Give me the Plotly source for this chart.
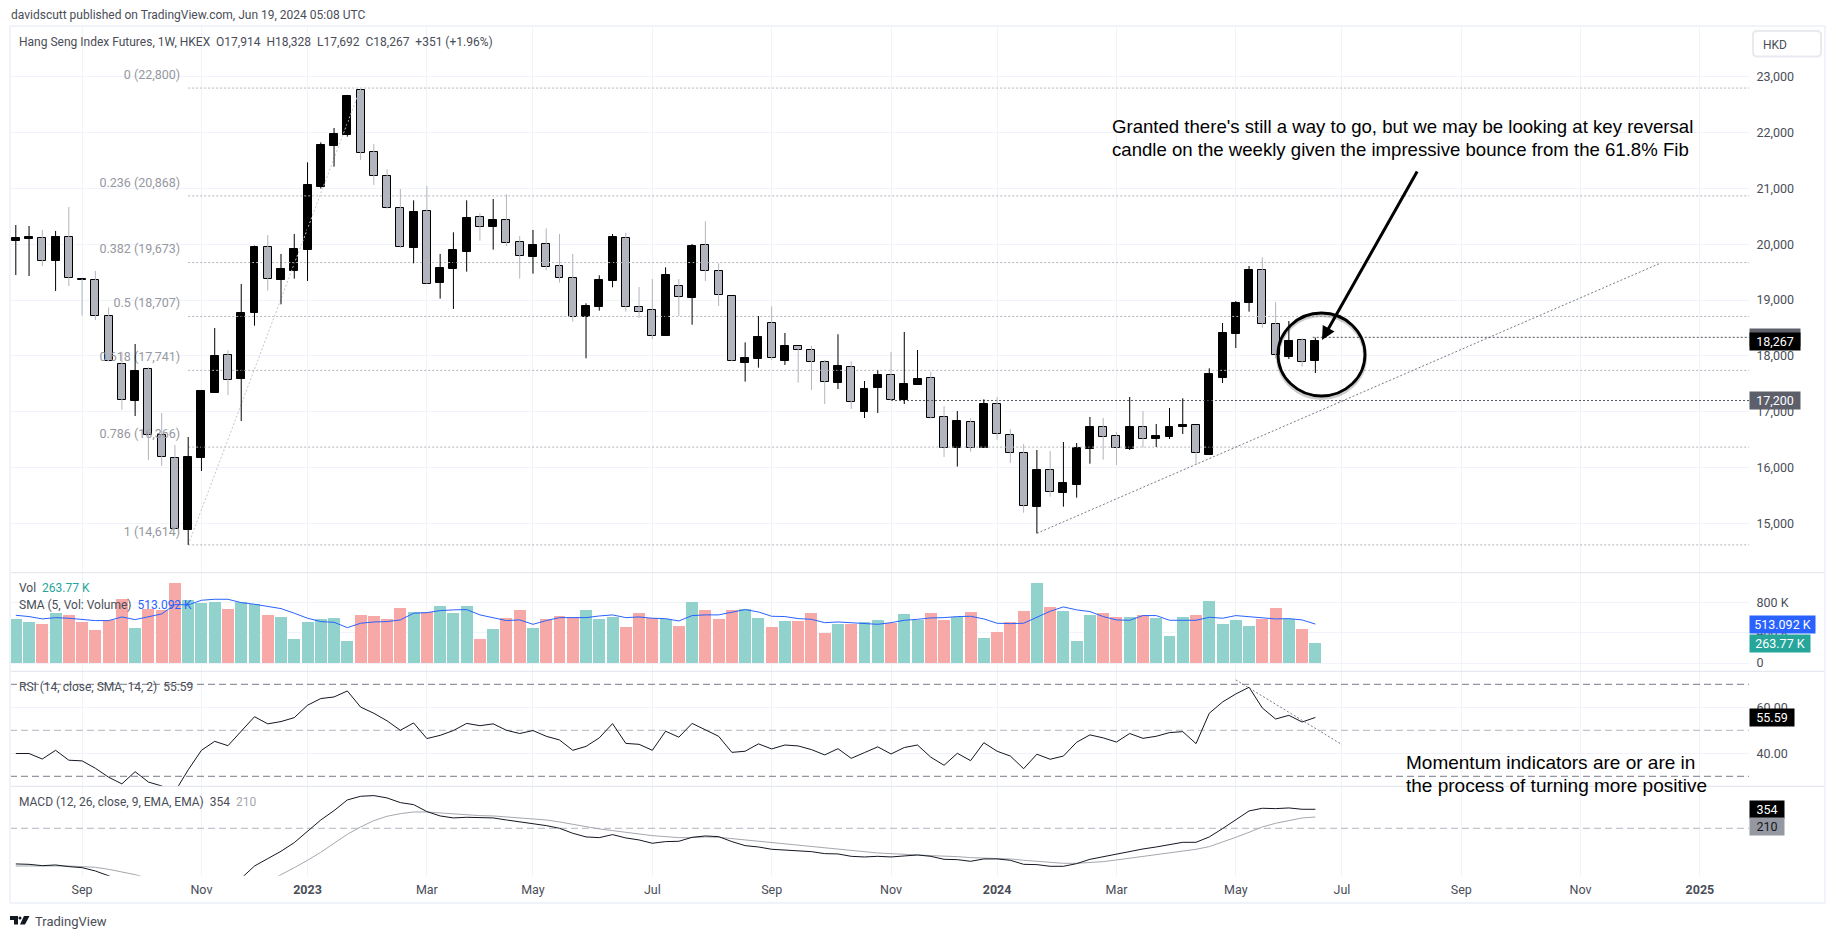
# %%
import pandas as pd
import plotly.graph_objects as go
from plotly.subplots import make_subplots

# %% DATA (weekly bars)
first_bar = '2022-08-01'

opens = [
    20065, 20095, 20107, 19707, 20125, 19373, 19355, 18709, 17849, 17198,
    17759, 16577, 16165, 14886, 16177, 17341, 18010, 17586, 18775, 19946,
    19367, 19528, 19904, 21033, 21768, 21965, 22759, 21648, 21218, 20645,
    19940, 20591, 19313, 19564, 19868, 20484, 20316, 20430, 20036, 19779,
    20000, 19606, 19391, 18703, 18882, 19349,
    20107, 18871, 18817, 18363, 19247, 19044, 19981, 19516, 19068, 17879,
    17951, 18584, 17915, 18172, 18100, 17885, 17521, 17795, 17001, 17431,
    17652, 17210, 17485, 17598, 16899, 16356, 16810, 16356, 17132, 16577,
    16254, 15299, 15950, 15549, 15693, 16338, 16720, 16559, 16332, 16720,
    16517, 16547, 16732, 16756, 16224, 17604, 18393, 18954, 19539, 18566,
    17986, 18279, 17914,
]
highs = [
    20346, 20328, 20257, 20239, 20669, 19380, 19522, 18870, 18076, 18213,
    17795, 16977, 16404, 16547, 17389, 18500, 18100, 19289, 19976, 20167,
    19827, 20185, 21469, 21827, 22084, 22676, 22790, 21798, 21344, 20991,
    20788, 21045, 19827, 20215, 20788, 20555, 20812, 20896, 20149, 20257,
    20286, 20185, 19827, 18942, 19444, 20185,
    20208, 19235, 19378, 19587, 19378, 20005, 20412, 19659, 19068, 18243,
    18715, 18888, 18411, 18172, 18178, 17927, 18387, 17903, 17550, 17742,
    18070, 18429, 18106, 17718, 17102, 17013, 16881, 17222, 17264, 16690,
    16422, 16314, 16296, 16457, 16439, 16905, 16887, 16637, 17264, 17013,
    16780, 17067, 17240, 16756, 17777, 18590, 18984, 19611, 19766, 18966,
    18625, 18315, 18328,
]
lows = [
    19450, 19432, 19611, 19164, 19253, 18721, 18644, 17900, 17037, 16923,
    16135, 16027, 14892, 14614, 15938, 17341, 17300, 16834, 18542, 19169,
    18924, 19385, 19343, 20997, 21391, 21929, 21511, 21063, 20639, 19934,
    19659, 19295, 19026, 18841, 19510, 20066, 19904, 19970, 19385, 19474,
    19534, 19313, 18614, 17957, 18811, 19229,
    18793, 18679, 18303, 18363, 18715, 18560, 19342, 18894, 17903, 17539,
    17789, 17927, 17837, 17521, 17389, 17138, 17407, 17049, 16887, 16977,
    17198, 17138, 17485, 16875, 16189, 16017, 16284, 16356, 16499, 16081,
    15191, 14821, 15478, 15299, 15460, 16069, 16141, 16045, 16314, 16356,
    16368, 16511, 16601, 16045, 16224, 17515, 18142, 18793, 18506, 17956,
    17944, 17807, 17692,
]
closes = [
    20107, 20125, 19707, 20131, 19391, 19361, 18709, 17903, 17204, 17730,
    16589, 16183, 14892, 16189, 17371, 17998, 17562, 18769, 19952, 19373,
    19558, 19916, 21063, 21780, 21977, 22658, 21630, 21218, 20645, 19958,
    20573, 19295, 19570, 19892, 20466, 20304, 20430, 20018, 19785, 19982,
    19588, 19391, 18691, 18888, 19361, 20125,
    18871, 18793, 18351, 19450, 19050, 19970, 19516, 19086, 17903, 17957,
    18339, 17969, 18178, 18100, 17885, 17527, 17819, 17168, 17407, 17658,
    17216, 17497, 17586, 16893, 16344, 16834, 16344, 17138, 16595, 16266,
    15305, 15956, 15555, 15723, 16350, 16726, 16541, 16344, 16726, 16505,
    16565, 16726, 16762, 16254, 17676, 18411, 18948, 19539, 18566, 18010,
    18267, 17897, 18267,
]
# volume in thousands
volume = [
    581, 541, 515, 660, 634, 541, 436, 568, 845, 462,
    713, 700, 1056, 832, 792, 805, 713, 805, 779, 634,
    607, 317, 541, 581, 594, 290, 634, 620, 581, 726,
    673, 673, 752, 660, 752, 317, 449, 594, 700, 462,
    581, 620, 607, 700, 581, 607,
    475, 660, 594, 581, 488, 805, 700, 581, 700, 713,
    594, 475, 554, 554, 660, 396, 515, 515, 541, 568,
    528, 647, 576, 660, 568, 607, 673, 330, 409, 541,
    686, 1056, 739, 686, 290, 634, 660, 607, 607, 634,
    594, 356, 607, 634, 818, 515, 568, 488, 581, 726,
    581, 449, 263.77,
]
vol_sma = [
    629, 612, 581, 598, 590, 576, 559, 559, 607, 572,
    612, 647, 770, 766, 827, 840, 840, 796, 774, 744,
    717, 656, 590, 546, 537, 466, 524, 541, 546, 568,
    656, 664, 691, 700, 704, 634, 598, 559, 568, 510,
    559, 598, 598, 598, 620, 634,
    598, 607, 590, 585, 554, 625, 634, 634, 669, 704,
    673, 616, 612, 585, 576, 532, 541, 532, 528, 510,
    532, 563, 576, 594, 598, 612, 616, 581, 524, 519,
    524, 598, 682, 739, 700, 678, 612, 568, 563, 625,
    625, 563, 563, 563, 603, 590, 625, 612, 598, 581,
    585, 568, 513.092,
]
rsi = [
    39.9, 39.9, 37.5, 41.3, 37.0, 36.7, 33.5, 29.6, 26.7, 32.0,
    27.5, 25.8, 23.3, 32.8, 41.3, 45.2, 43.3, 49.7, 55.9, 52.8,
    53.8, 55.5, 60.9, 63.8, 64.5, 67.1, 60.1, 57.4, 54.1, 50.0,
    53.2, 46.4, 47.8, 49.9, 53.0, 52.0, 52.8, 50.0, 48.6, 49.9,
    47.4, 45.8, 41.3, 43.0, 46.7, 52.9,
    44.3, 43.9, 41.3, 49.6, 47.0, 53.0, 50.1, 47.4, 40.4, 40.9,
    44.1, 41.9, 43.6, 43.2, 41.6, 39.3, 42.0, 37.8, 40.3, 42.8,
    39.7, 42.5, 43.6, 38.3, 34.8, 40.0, 36.8, 44.6, 40.9, 38.8,
    33.3, 39.6, 37.4, 38.8, 44.8, 48.0, 46.7, 44.9, 48.6, 46.5,
    47.4, 49.0, 49.4, 44.2, 57.4, 62.3, 65.8, 68.7, 59.7, 54.9,
    56.5, 53.6, 55.59,
]
macd = [
    -664, -671, -696, -683, -714, -733, -795, -888, -994, -1087,
    -1149, -1242, -1304, -1366, -1335, -1242, -1118, -932, -702, -565,
    -428, -267, -62, 155, 329, 528, 596, 609, 565, 478,
    441, 311, 230, 193, 205, 193, 193, 155, 118, 93,
    50, 0, -93, -161, -174, -118,
    -180, -217, -279, -248, -242, -168, -143, -155, -248, -323,
    -348, -391, -404, -416, -435, -472, -478, -522, -534, -522,
    -534, -515, -497, -522, -578, -584, -615, -571, -571, -596,
    -671, -677, -708, -708, -658, -578, -528, -491, -428, -385,
    -348, -304, -261, -261, -161, -6, 161, 323, 373, 366,
    379, 354, 354,
]
macd_signal = [
    -702, -702, -696, -689, -702, -714, -727, -764, -814, -863,
    -932, -994, -1074, -1136, -1199, -1242, -1242, -1180, -1087, -994,
    -869, -733, -596, -447, -279, -112, 25, 143, 224, 273,
    304, 304, 286, 267, 255, 236, 230, 211, 193, 180,
    155, 118, 75, 25, -12, -43,
    -68, -106, -137, -155, -174, -174, -161, -168, -193, -217,
    -242, -267, -292, -317, -342, -366, -391, -416, -441, -460,
    -472, -491, -497, -509, -515, -528, -546, -553, -559, -571,
    -596, -615, -640, -652, -652, -640, -621, -590, -559, -528,
    -497, -466, -435, -391, -342, -248, -168, -75, 25, 93,
    149, 193, 210,
]

fib_levels = [0, 0.236, 0.382, 0.5, 0.618, 0.786, 1]
fib_prices = [22800, 20868, 19673, 18707, 17741, 16366, 14614]

date_ticks = ['2022-09-05', '2022-11-07', '2023-01-02', '2023-03-06', '2023-05-01',
              '2023-07-03', '2023-09-04', '2023-11-06', '2024-01-01', '2024-03-04',
              '2024-05-06', '2024-07-01', '2024-09-02', '2024-11-04', '2025-01-06']
date_labels = ['Sep', 'Nov', '<b>2023</b>', 'Mar', 'May', 'Jul', 'Sep', 'Nov', '<b>2024</b>', 'Mar',
               'May', 'Jul', 'Sep', 'Nov', '<b>2025</b>']

price_ticks = [15000, 16000, 17000, 18000, 19000, 20000, 21000, 22000, 23000]
vol_ticks = [0, 400, 800]
vol_tick_labels = ['0', '400 K', '800 K']
rsi_ticks = [40, 60]

# %% FRAME
df = pd.DataFrame({
    'open': opens, 'high': highs, 'low': lows, 'close': closes,
    'volume': volume, 'sma': vol_sma, 'rsi': rsi, 'macd': macd, 'signal': macd_signal,
})
df['date'] = pd.date_range(first_bar, periods=len(df), freq='7D')
df['up'] = df['close'] >= df['open']

W, H = 1836, 939
GRID = '#f0f3fa'
SEP = '#e0e3eb'
GREY_BODY = '#b2b5be'
TEXT = '#4a4d57'
FONT = 'Roboto'


def px(x):
    return x / W


def py(y):
    return 1 - y / H


def week(i):
    return df['date'].iloc[0] + pd.Timedelta(days=7 * i)


pane_edges = [26, 572.7, 671.3, 786.3, 875.7]
x_range = [week(-0.437), week(130.7)]
wick_x_up, wick_y_up, wick_x_dn, wick_y_dn = [], [], [], []
for _, r in df.iterrows():
    if r['up']:
        wick_x_up += [r['date'], r['date'], None]
        wick_y_up += [r['low'], r['high'], None]
    else:
        wick_x_dn += [r['date'], r['date'], None]
        wick_y_dn += [r['low'], r['high'], None]

fig = make_subplots(
    rows=4, cols=1, shared_xaxes=True, vertical_spacing=0,
    row_heights=[b - a for a, b in zip(pane_edges[:-1], pane_edges[1:])],
)

# %% PRICE PANE
# fib labels sit under the candles in the original, so a text trace and not annotations
fib_start = week(13)
for lvl, p in zip(fib_levels, fib_prices):
    fig.add_trace(go.Scatter(
        x=[fib_start, x_range[1]], y=[p, p], mode='lines',
        line=dict(color='#b2b5be', width=1, dash='2px,2px'), hoverinfo='skip',
    ), row=1, col=1)
# an invisible marker pushes the text off the line start
fig.add_trace(go.Scatter(
    x=[week(12.85)] * len(fib_prices), y=fib_prices, mode='markers+text',
    marker=dict(size=8, color='rgba(0,0,0,0)'),
    text=[f'{l} ({p:,})' for l, p in zip(fib_levels, fib_prices)],
    textposition='top left',
    textfont=dict(color='#9598a1', size=12.5, family=FONT), hoverinfo='skip',
), row=1, col=1)
# fib trend line
fig.add_trace(go.Scatter(
    x=[week(13), week(26)], y=[14614, 22800], mode='lines',
    line=dict(color='#c4c6cc', width=1, dash='2px,2px'), hoverinfo='skip',
), row=1, col=1)
# rising support line
fig.add_trace(go.Scatter(
    x=[week(77), week(124)], y=[14821, 19660], mode='lines',
    line=dict(color='#787b86', width=1, dash='2px,2px'), hoverinfo='skip',
), row=1, col=1)
# horizontal levels
fig.add_trace(go.Scatter(
    x=[week(66), x_range[1]], y=[17200, 17200], mode='lines',
    line=dict(color='#50535e', width=1, dash='2px,2px'), hoverinfo='skip',
), row=1, col=1)
fig.add_trace(go.Scatter(
    x=[week(97.8), x_range[1]], y=[18333, 18333], mode='lines',
    line=dict(color='#50535e', width=1, dash='2px,2px'), hoverinfo='skip',
), row=1, col=1)

fig.add_trace(go.Scatter(
    x=wick_x_dn, y=wick_y_dn, mode='lines',
    line=dict(color=GREY_BODY, width=1), hoverinfo='skip',
), row=1, col=1)
fig.add_trace(go.Scatter(
    x=wick_x_up, y=wick_y_up, mode='lines',
    line=dict(color='#000000', width=1), hoverinfo='skip',
), row=1, col=1)
bar_ms = 7 * 24 * 3600 * 1000 * 0.6
for is_up, colr in [(True, '#000000'), (False, GREY_BODY)]:
    part = df[df['up'] == is_up]
    fig.add_trace(go.Bar(
        x=part['date'],
        y=(part['close'] - part['open']).abs(),
        base=part[['open', 'close']].min(axis=1),
        width=bar_ms,
        marker=dict(color=colr, line=dict(color='#000000', width=1)),
        hoverinfo='skip',
    ), row=1, col=1)

# %% VOLUME PANE
fig.add_trace(go.Bar(
    x=df['date'], y=df['volume'], width=7 * 24 * 3600 * 1000 * 0.9,
    marker=dict(color=['#92d2cc' if u else '#f7a9a7' for u in df['up']], line_width=0),
    hoverinfo='skip',
), row=2, col=1)
fig.add_trace(go.Scatter(
    x=df['date'], y=df['sma'], mode='lines',
    line=dict(color='#2962ff', width=1), hoverinfo='skip',
), row=2, col=1)

# %% RSI PANE
for lvl, colr in [(70, '#787b86'), (50, '#b2b5be'), (30, '#787b86')]:
    fig.add_trace(go.Scatter(
        x=x_range, y=[lvl, lvl], mode='lines',
        line=dict(color=colr, width=1, dash='7px,4px'), hoverinfo='skip',
    ), row=3, col=1)
fig.add_trace(go.Scatter(
    x=df['date'], y=df['rsi'], mode='lines',
    line=dict(color='#131722', width=1), hoverinfo='skip',
), row=3, col=1)
fig.add_trace(go.Scatter(
    x=[week(92), week(100)], y=[71.9, 43.8], mode='lines',
    line=dict(color='#787b86', width=1, dash='2px,2px'), hoverinfo='skip',
), row=3, col=1)

# %% MACD PANE
fig.add_trace(go.Scatter(
    x=x_range, y=[0, 0], mode='lines',
    line=dict(color='#b2b5be', width=1, dash='7px,4px'), hoverinfo='skip',
), row=4, col=1)
fig.add_trace(go.Scatter(
    x=df['date'], y=df['signal'], mode='lines',
    line=dict(color='#a5a7ae', width=1), hoverinfo='skip',
), row=4, col=1)
fig.add_trace(go.Scatter(
    x=df['date'], y=df['macd'], mode='lines',
    line=dict(color='#131722', width=1), hoverinfo='skip',
), row=4, col=1)

# %% AXES
fig.update_xaxes(
    range=x_range, domain=[px(10), px(1749)], tickvals=date_ticks, ticktext=date_labels,
    showgrid=True, gridcolor=GRID, gridwidth=1, zeroline=False, showline=False,
    ticks='', tickangle=0, fixedrange=True,
    tickfont=dict(color=TEXT, size=12.5, family=FONT),
)
fig.update_xaxes(showticklabels=True, row=4, col=1, ticklabelstandoff=5)
axis_common = dict(
    side='right', showgrid=True, gridcolor=GRID, gridwidth=1, zeroline=False, showline=False,
    ticks='outside', ticklen=4, tickcolor='rgba(0,0,0,0)', fixedrange=True,
    tickfont=dict(color=TEXT, size=12.5, family=FONT),
)
fig.update_yaxes(row=1, col=1, range=[14115, 23912], tickvals=price_ticks, tickformat=',',
                 **axis_common)
fig.update_yaxes(row=2, col=1, range=[-109, 1190], tickvals=vol_ticks, ticktext=vol_tick_labels,
                 **axis_common)
fig.update_yaxes(row=3, col=1, range=[25.65, 75.65], tickvals=rsi_ticks, tickformat='.2f',
                 **axis_common)
fig.update_yaxes(row=4, col=1, range=[-883, 782], tickvals=[], **axis_common)
for n, (top, bottom) in enumerate(zip(pane_edges[:-1], pane_edges[1:]), start=1):
    name = 'yaxis' if n == 1 else f'yaxis{n}'
    fig.layout[name].domain = [py(bottom), py(top)]


# %% TEXT AND DRAWINGS
def label(text, x, y, size=12, color=TEXT, family=FONT):
    fig.add_annotation(
        text=text, x=px(x), y=py(y), xref='paper', yref='paper', xanchor='left', yanchor='middle',
        showarrow=False, align='left', font=dict(size=size, color=color, family=family),
    )


def price_tag(text, yref, value, bg, w, color='#ffffff', shift=0):
    fig.add_annotation(
        text=text, x=px(1749), y=value, xref='paper', yref=yref, xanchor='left', yanchor='middle',
        yshift=shift, showarrow=False, bgcolor=bg, width=w, height=15, align='center', borderpad=1,
        font=dict(size=12.5, color=color, family=FONT),
    )


label('davidscutt published on TradingView.com, Jun 19, 2024 05:08 UTC', 8.5, 15)
label('Hang Seng Index Futures, 1W, HKEX&nbsp;&nbsp;O17,914&nbsp;&nbsp;H18,328&nbsp;&nbsp;'
      'L17,692&nbsp;&nbsp;C18,267&nbsp;&nbsp;+351 (+1.96%)', 16.5, 41.7)
label('Vol&nbsp;&nbsp;<span style="color:#26a69a">263.77 K</span>', 16.5, 587.7)
label('SMA (5, Vol: Volume)&nbsp;&nbsp;<span style="color:#2962ff">513.092 K</span>', 16.5, 604.7)
label('RSI (14, close, SMA, 14, 2)&nbsp;&nbsp;55.59', 16.5, 686.7)
label('MACD (12, 26, close, 9, EMA, EMA)&nbsp;&nbsp;354&nbsp;&nbsp;'
      '<span style="color:#a5a7ae">210</span>', 16.5, 801.7)
label('TradingView', 32.5, 921.7, size=13)
label('HKD', 1761, 45, size=12)

for line, y in [("Granted there's still a way to go, but we may be looking at key reversal", 126.7),
                ('candle on the weekly given the impressive bounce from the 61.8% Fib', 149)]:
    label(line, 1110, y, size=18.6, color='#000000', family='Liberation Sans')
for line, y in [('Momentum indicators are or are in', 762.7),
                ('the process of turning more positive', 785)]:
    label(line, 1404, y, size=19, color='#000000', family='Liberation Sans')

price_tag('&nbsp;', 'y', 18333, '#5d606b', 48)
price_tag('18,267', 'y', 18267, '#000000', 48)
price_tag('17,200', 'y', 17200, '#5d606b', 48)
price_tag('513.092 K', 'y2', 513.092, '#2962ff', 63)
price_tag('263.77 K', 'y2', 263.77, '#26a69a', 58)
price_tag('55.59', 'y3', 55.59, '#000000', 42)
price_tag('354', 'y4', 354, '#000000', 32)
price_tag('210', 'y4', 210, '#9598a1', 32, color='#131722', shift=-9)

fig.add_annotation(
    x=px(1322), y=py(340), ax=1418 - 1322, ay=170 - 340, xref='paper', yref='paper',
    axref='pixel', ayref='pixel', text='', showarrow=True,
    arrowhead=2, arrowsize=0.9, arrowwidth=3, arrowcolor='#000000',
)

shapes = []
# pane separators and outer frame
for y in pane_edges[1:-1]:
    shapes.append(dict(type='line', xref='paper', yref='paper', x0=px(10), x1=px(1824),
                       y0=py(y), y1=py(y), line=dict(color=SEP, width=1)))
for x0, y0, x1, y1 in [(10, 26, 1825, 26), (10, 903, 1825, 903), (10, 26, 10, 903), (1825, 26, 1825, 903)]:
    shapes.append(dict(type='line', xref='paper', yref='paper', x0=px(x0), x1=px(x1),
                       y0=py(y0), y1=py(y1), line=dict(color='#f0f3fa', width=2)))
# shadow then circle around the last candles
shapes.append(dict(type='circle', xref='paper', yref='paper', x0=px(1278), x1=px(1365),
                   y0=py(398), y1=py(315), line=dict(color='rgba(0,0,0,0.2)', width=4)))
shapes.append(dict(type='circle', xref='paper', yref='paper', x0=px(1278), x1=px(1365),
                   y0=py(396), y1=py(313), line=dict(color='#000000', width=2.8)))
# HKD button outline
x0, x1, y0, y1, r = 1753, 1821, 31, 56.5, 4
shapes.append(dict(
    type='path', xref='paper', yref='paper', line=dict(color='#e8eaf0', width=2),
    path=f'M {px(x0 + r)} {py(y0)} L {px(x1 - r)} {py(y0)} Q {px(x1)} {py(y0)} {px(x1)} {py(y0 + r)} '
         f'L {px(x1)} {py(y1 - r)} Q {px(x1)} {py(y1)} {px(x1 - r)} {py(y1)} '
         f'L {px(x0 + r)} {py(y1)} Q {px(x0)} {py(y1)} {px(x0)} {py(y1 - r)} '
         f'L {px(x0)} {py(y0 + r)} Q {px(x0)} {py(y0)} {px(x0 + r)} {py(y0)} Z'))
# logo
shapes.append(dict(type='path', xref='paper', yref='paper', fillcolor='#131722', line_width=0,
                   path=f'M {px(10)} {py(916)} L {px(18)} {py(916)} L {px(18)} {py(924.5)} '
                        f'L {px(14)} {py(924.5)} L {px(14)} {py(920)} L {px(10)} {py(920)} Z'))
shapes.append(dict(type='circle', xref='paper', yref='paper', fillcolor='#131722', line_width=0,
                   x0=px(18.5), x1=px(21.5), y0=py(919.5), y1=py(916.5)))
shapes.append(dict(type='path', xref='paper', yref='paper', fillcolor='#131722', line_width=0,
                   path=f'M {px(24)} {py(916)} L {px(29.5)} {py(916)} L {px(25)} {py(924.5)} '
                        f'L {px(20)} {py(924.5)} Z'))

fig.update_layout(
    width=W, height=H, margin=dict(l=0, r=0, t=0, b=0),
    paper_bgcolor='#ffffff', plot_bgcolor='#ffffff',
    showlegend=False, bargap=0, barmode='overlay', shapes=shapes,
    hovermode=False, font=dict(family=FONT),
)

fig.write_html('out.html', post_script="document.body.style.margin='0';",
               config={'displayModeBar': False})
